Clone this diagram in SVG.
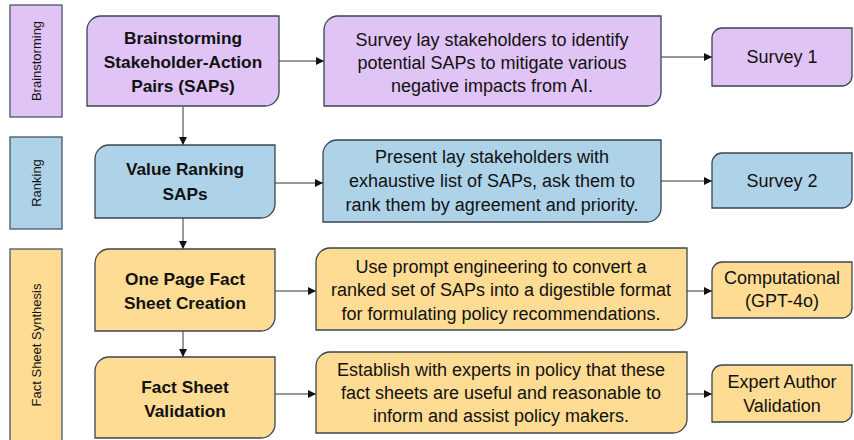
<svg xmlns="http://www.w3.org/2000/svg" width="854" height="440" viewBox="0 0 854 440">
<defs>
<style>
.lbl{stroke:#4a5568;stroke-width:1.3}
.nd{stroke:#3b4450;stroke-width:1.3}
.pur{fill:#e0c4f6}
.blu{fill:#aed3e9}
.yel{fill:#fedc94}
text{font-family:"Liberation Sans",Arial,sans-serif;fill:#111;text-anchor:middle}
.b{font-weight:bold;font-size:17.3px}
.n{font-size:18px}
.v{font-size:13px}
.c line{stroke:#333;stroke-width:1;marker-end:url(#ah)}
</style>
<marker id="ah" viewBox="0 0 10 10" refX="10" refY="5" markerWidth="8" markerHeight="8" markerUnits="userSpaceOnUse" orient="auto">
<path d="M0,0 L10,5 L0,10 z" fill="#111"/>
</marker>
</defs>
<rect width="854" height="440" fill="#fff"/>

<g id="lane-brainstorming">
<rect class="lbl pur" x="10" y="5" width="52" height="112"/>
<text class="v" transform="translate(41,61) rotate(-90)">Brainstorming</text>
</g>
<g id="lane-ranking">
<rect class="lbl blu" x="10" y="137" width="52" height="92"/>
<text class="v" transform="translate(41,183) rotate(-90)">Ranking</text>
</g>
<g id="lane-factsheet">
<rect class="lbl yel" x="10" y="249" width="52" height="194"/>
<text class="v" transform="translate(41,345) rotate(-90)">Fact Sheet Synthesis</text>
</g>

<g id="connectors" class="c">
<line x1="183" y1="107" x2="183" y2="145"/>
<line x1="183" y1="218" x2="183" y2="249"/>
<line x1="183" y1="331" x2="183" y2="357"/>
<line x1="279" y1="61" x2="324" y2="61"/>
<line x1="661" y1="57" x2="712" y2="57"/>
<line x1="275" y1="183" x2="323" y2="183"/>
<line x1="661" y1="181" x2="712" y2="181"/>
<line x1="275" y1="291" x2="316" y2="291"/>
<line x1="687" y1="291" x2="712" y2="291"/>
<line x1="275" y1="394" x2="316" y2="394"/>
<line x1="687" y1="394" x2="712" y2="394"/>
</g>

<g id="n-brainstorm">
<path class="nd pur" d="M101,16 H279 V92 A14,14 0 0 1 265,106 H87 V30 A14,14 0 0 1 101,16 Z"/>
<text class="b" x="183" y="44">Brainstorming</text>
<text class="b" x="183" y="68">Stakeholder-Action</text>
<text class="b" x="183" y="92">Pairs (SAPs)</text>
</g>
<g id="n-survey-desc">
<path class="nd pur" d="M338,16 H661 V92 A14,14 0 0 1 647,106 H324 V30 A14,14 0 0 1 338,16 Z"/>
<text class="n" x="492" y="46">Survey lay stakeholders to identify</text>
<text class="n" x="492" y="69">potential SAPs to mitigate various</text>
<text class="n" x="492" y="92">negative impacts from AI.</text>
</g>
<g id="n-survey1">
<path class="nd pur" d="M722,28 H852 V76 A10,10 0 0 1 842,86 H712 V38 A10,10 0 0 1 722,28 Z"/>
<text class="n" x="782" y="63">Survey 1</text>
</g>

<g id="n-ranking">
<path class="nd blu" d="M109,145 H275 V204 A14,14 0 0 1 261,218 H95 V159 A14,14 0 0 1 109,145 Z"/>
<text class="b" x="185" y="175">Value Ranking</text>
<text class="b" x="185" y="200">SAPs</text>
</g>
<g id="n-ranking-desc">
<path class="nd blu" d="M337,140 H661 V208 A14,14 0 0 1 647,222 H323 V154 A14,14 0 0 1 337,140 Z"/>
<text class="n" x="492" y="163">Present lay stakeholders with</text>
<text class="n" x="492" y="187">exhaustive list of SAPs, ask them to</text>
<text class="n" x="492" y="211">rank them by agreement and priority.</text>
</g>
<g id="n-survey2">
<path class="nd blu" d="M722,153 H852 V198 A10,10 0 0 1 842,208 H712 V163 A10,10 0 0 1 722,153 Z"/>
<text class="n" x="782" y="187">Survey 2</text>
</g>

<g id="n-factsheet">
<path class="nd yel" d="M109,249 H275 V317 A14,14 0 0 1 261,331 H95 V263 A14,14 0 0 1 109,249 Z"/>
<text class="b" x="185" y="285">One Page Fact</text>
<text class="b" x="185" y="309">Sheet Creation</text>
</g>
<g id="n-factsheet-desc">
<path class="nd yel" d="M330,248 H687 V316 A14,14 0 0 1 673,330 H316 V262 A14,14 0 0 1 330,248 Z"/>
<text class="n" x="501" y="273">Use prompt engineering to convert a</text>
<text class="n" x="501" y="296">ranked set of SAPs into a digestible format</text>
<text class="n" x="501" y="320">for formulating policy recommendations.</text>
</g>
<g id="n-computational">
<path class="nd yel" d="M722,262 H852 V308 A10,10 0 0 1 842,318 H712 V272 A10,10 0 0 1 722,262 Z"/>
<text class="n" x="782" y="284">Computational</text>
<text class="n" x="782" y="307">(GPT-4o)</text>
</g>

<g id="n-validation">
<path class="nd yel" d="M109,357 H275 V424 A14,14 0 0 1 261,438 H95 V371 A14,14 0 0 1 109,357 Z"/>
<text class="b" x="185" y="393">Fact Sheet</text>
<text class="b" x="185" y="417">Validation</text>
</g>
<g id="n-validation-desc">
<path class="nd yel" d="M330,352 H687 V419 A14,14 0 0 1 673,433 H316 V366 A14,14 0 0 1 330,352 Z"/>
<text class="n" x="501" y="376">Establish with experts in policy that these</text>
<text class="n" x="501" y="399">fact sheets are useful and reasonable to</text>
<text class="n" x="501" y="422">inform and assist policy makers.</text>
</g>
<g id="n-expert">
<path class="nd yel" d="M722,365 H852 V412 A10,10 0 0 1 842,422 H712 V375 A10,10 0 0 1 722,365 Z"/>
<text class="n" x="782" y="388">Expert Author</text>
<text class="n" x="782" y="412">Validation</text>
</g>
</svg>
